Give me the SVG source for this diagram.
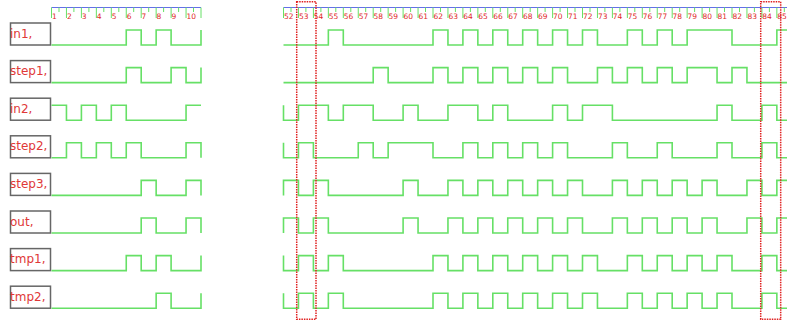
<svg xmlns="http://www.w3.org/2000/svg" width="787" height="322" viewBox="0 0 787 322">
<style>
.bg{fill:#ffffff}
.wave{fill:none;stroke:#66e066;stroke-width:1.6;stroke-linejoin:miter}
.tick{fill:none;stroke:#66e066;stroke-width:1}
.axis{fill:none;stroke:#6270e8;stroke-width:1.2}
.num{font-family:"DejaVu Sans",Verdana,sans-serif;font-size:7.5px;fill:#e02828}
.lbl{font-family:"DejaVu Sans",Verdana,sans-serif;font-size:12px;fill:#e03838}
.box{fill:none;stroke:#666666;stroke-width:1.5}
.mark{fill:none;stroke:#e02020;stroke-width:1.5;stroke-dasharray:1.5 1}
</style>
<rect class="bg" x="0" y="0" width="787" height="322"/>
<g id="ruler">
<path class="axis" d="M51.5,7.5 H201 M283.5,7.5 H787"/>
<path class="tick" d="M51.5,7.5V18M66.45,7.5V18M81.4,7.5V18M96.35,7.5V18M111.3,7.5V18M126.25,7.5V18M141.2,7.5V18M156.15,7.5V18M171.1,7.5V18M186.05,7.5V18M201,7.5V18
M59,7.5V12M73.9,7.5V12M88.9,7.5V12M103.8,7.5V12M118.8,7.5V12M133.7,7.5V12M148.7,7.5V12M163.6,7.5V12M178.6,7.5V12M193.5,7.5V12
M283.5,7.5V18M298.45,7.5V18M313.4,7.5V18M328.35,7.5V18M343.3,7.5V18M358.25,7.5V18M373.2,7.5V18M388.15,7.5V18M403.1,7.5V18M418.05,7.5V18M433,7.5V18M447.95,7.5V18M462.9,7.5V18M477.85,7.5V18M492.8,7.5V18M507.75,7.5V18M522.7,7.5V18M537.65,7.5V18M552.6,7.5V18M567.55,7.5V18M582.5,7.5V18M597.45,7.5V18M612.4,7.5V18M627.35,7.5V18M642.3,7.5V18M657.25,7.5V18M672.2,7.5V18M687.15,7.5V18M702.1,7.5V18M717.05,7.5V18M732,7.5V18M746.95,7.5V18M761.9,7.5V18M776.85,7.5V18
M291,7.5V12M305.9,7.5V12M320.9,7.5V12M335.8,7.5V12M350.8,7.5V12M365.7,7.5V12M380.7,7.5V12M395.6,7.5V12M410.6,7.5V12M425.5,7.5V12M440.5,7.5V12M455.4,7.5V12M470.4,7.5V12M485.3,7.5V12M500.3,7.5V12M515.2,7.5V12M530.2,7.5V12M545.1,7.5V12M560.1,7.5V12M575,7.5V12M590,7.5V12M604.9,7.5V12M619.9,7.5V12M634.8,7.5V12M649.8,7.5V12M664.7,7.5V12M679.7,7.5V12M694.6,7.5V12M709.6,7.5V12M724.5,7.5V12M739.5,7.5V12M754.4,7.5V12M769.4,7.5V12M784.3,7.5V12"/>
<g class="num">
<text x="51.9" y="18.5">1</text><text x="66.9" y="18.5">2</text><text x="81.8" y="18.5">3</text><text x="96.8" y="18.5">4</text><text x="111.7" y="18.5">5</text><text x="126.7" y="18.5">6</text><text x="141.6" y="18.5">7</text><text x="156.6" y="18.5">8</text><text x="171.5" y="18.5">9</text><text x="186.5" y="18.5">10</text>
<text x="283.9" y="18.5">52</text><text x="298.9" y="18.5">53</text><text x="313.8" y="18.5">54</text><text x="328.8" y="18.5">55</text><text x="343.7" y="18.5">56</text><text x="358.7" y="18.5">57</text><text x="373.6" y="18.5">58</text><text x="388.6" y="18.5">59</text><text x="403.5" y="18.5">60</text><text x="418.5" y="18.5">61</text><text x="433.4" y="18.5">62</text><text x="448.4" y="18.5">63</text><text x="463.3" y="18.5">64</text><text x="478.3" y="18.5">65</text><text x="493.2" y="18.5">66</text><text x="508.2" y="18.5">67</text><text x="523.1" y="18.5">68</text><text x="538.1" y="18.5">69</text><text x="553" y="18.5">70</text><text x="568" y="18.5">71</text><text x="582.9" y="18.5">72</text><text x="597.9" y="18.5">73</text><text x="612.8" y="18.5">74</text><text x="627.8" y="18.5">75</text><text x="642.7" y="18.5">76</text><text x="657.7" y="18.5">77</text><text x="672.6" y="18.5">78</text><text x="687.6" y="18.5">79</text><text x="702.5" y="18.5">80</text><text x="717.5" y="18.5">81</text><text x="732.4" y="18.5">82</text><text x="747.4" y="18.5">83</text><text x="762.3" y="18.5">84</text><text x="777.3" y="18.5">85</text>
</g>
</g>
<g id="row-in1" transform="translate(0,30)">
<rect class="box" x="10.5" y="-7" width="40" height="22"/>
<text class="lbl" x="10" y="7.6">in1,</text>
<path class="wave" d="M51.5,15 H126.25 V0 H141.2 V15 H156.15 V0 H171.1 V15 H201 V0"/>
<path class="wave" d="M283.5,15 H328.35 V0 H343.3 V15 H433 V0 H447.95 V15 H462.9 V0 H477.85 V15 H492.8 V0 H507.75 V15 H522.7 V0 H537.65 V15 H552.6 V0 H567.55 V15 H582.5 V0 H597.45 V15 H627.35 V0 H642.3 V15 H657.25 V0 H672.2 V15 H687.15 V0 H732 V15 H776.85 V0 H787"/>
</g>
<g id="row-step1" transform="translate(0,67.6)">
<rect class="box" x="10.5" y="-7" width="40" height="22"/>
<text class="lbl" x="10" y="7.6">step1,</text>
<path class="wave" d="M51.5,15 H126.25 V0 H141.2 V15 H171.1 V0 H186.05 V15 H201 V0"/>
<path class="wave" d="M283.5,15 H373.2 V0 H388.15 V15 H433 V0 H447.95 V15 H462.9 V0 H477.85 V15 H492.8 V0 H507.75 V15 H522.7 V0 H537.65 V15 H552.6 V0 H567.55 V15 H597.45 V0 H612.4 V15 H627.35 V0 H642.3 V15 H657.25 V0 H672.2 V15 H687.15 V0 H717.05 V15 H732 V0 H746.95 V15 H787"/>
</g>
<g id="row-in2" transform="translate(0,105.2)">
<rect class="box" x="10.5" y="-7" width="40" height="22"/>
<text class="lbl" x="10" y="7.6">in2,</text>
<path class="wave" d="M51.5,0 H66.45 V15 H81.4 V0 H96.35 V15 H111.3 V0 H126.25 V15 H186.05 V0 H201"/>
<path class="wave" d="M283.5,0 V15 H298.45 V0 H328.35 V15 H343.3 V0 H373.2 V15 H403.1 V0 H418.05 V15 H447.95 V0 H477.85 V15 H492.8 V0 H507.75 V15 H552.6 V0 H567.55 V15 H582.5 V0 H612.4 V15 H717.05 V0 H732 V15 H761.9 V0 H776.85 V15 H787"/>
</g>
<g id="row-step2" transform="translate(0,142.8)">
<rect class="box" x="10.5" y="-7" width="40" height="22"/>
<text class="lbl" x="10" y="7.6">step2,</text>
<path class="wave" d="M51.5,15 H66.45 V0 H81.4 V15 H96.35 V0 H111.3 V15 H126.25 V0 H141.2 V15 H186.05 V0 H201 V15"/>
<path class="wave" d="M283.5,0 V15 H298.45 V0 H313.4 V15 H358.25 V0 H373.2 V15 H388.15 V0 H433 V15 H462.9 V0 H477.85 V15 H492.8 V0 H507.75 V15 H522.7 V0 H537.65 V15 H552.6 V0 H567.55 V15 H612.4 V0 H627.35 V15 H657.25 V0 H672.2 V15 H717.05 V0 H732 V15 H761.9 V0 H776.85 V15 H787"/>
</g>
<g id="row-step3" transform="translate(0,180.4)">
<rect class="box" x="10.5" y="-7" width="40" height="22"/>
<text class="lbl" x="10" y="7.6">step3,</text>
<path class="wave" d="M51.5,15 H141.2 V0 H156.15 V15 H186.05 V0 H201 V15"/>
<path class="wave" d="M283.5,15 V0 H298.45 V15 H313.4 V0 H328.35 V15 H403.1 V0 H418.05 V15 H447.95 V0 H462.9 V15 H477.85 V0 H492.8 V15 H507.75 V0 H522.7 V15 H537.65 V0 H552.6 V15 H567.55 V0 H582.5 V15 H612.4 V0 H627.35 V15 H642.3 V0 H657.25 V15 H672.2 V0 H687.15 V15 H702.1 V0 H717.05 V15 H746.95 V0 H761.9 V15 H776.85 V0 H787"/>
</g>
<g id="row-out" transform="translate(0,218)">
<rect class="box" x="10.5" y="-7" width="40" height="22"/>
<text class="lbl" x="10" y="7.6">out,</text>
<path class="wave" d="M51.5,15 H141.2 V0 H156.15 V15 H186.05 V0 H201 V15"/>
<path class="wave" d="M283.5,15 V0 H298.45 V15 H313.4 V0 H328.35 V15 H403.1 V0 H418.05 V15 H447.95 V0 H462.9 V15 H477.85 V0 H492.8 V15 H507.75 V0 H522.7 V15 H537.65 V0 H552.6 V15 H567.55 V0 H582.5 V15 H612.4 V0 H627.35 V15 H642.3 V0 H657.25 V15 H672.2 V0 H687.15 V15 H702.1 V0 H717.05 V15 H746.95 V0 H761.9 V15 H776.85 V0 H787"/>
</g>
<g id="row-tmp1" transform="translate(0,255.6)">
<rect class="box" x="10.5" y="-7" width="40" height="22"/>
<text class="lbl" x="10" y="7.6">tmp1,</text>
<path class="wave" d="M51.5,15 H126.25 V0 H141.2 V15 H156.15 V0 H171.1 V15 H201 V0"/>
<path class="wave" d="M283.5,0 V15 H298.45 V0 H313.4 V15 H328.35 V0 H343.3 V15 H433 V0 H447.95 V15 H462.9 V0 H477.85 V15 H492.8 V0 H507.75 V15 H522.7 V0 H537.65 V15 H552.6 V0 H567.55 V15 H582.5 V0 H597.45 V15 H627.35 V0 H642.3 V15 H657.25 V0 H672.2 V15 H687.15 V0 H702.1 V15 H717.05 V0 H732 V15 H761.9 V0 H776.85 V15 H787"/>
</g>
<g id="row-tmp2" transform="translate(0,293.2)">
<rect class="box" x="10.5" y="-7" width="40" height="22"/>
<text class="lbl" x="10" y="7.6">tmp2,</text>
<path class="wave" d="M51.5,15 H156.15 V0 H171.1 V15 H201 V0"/>
<path class="wave" d="M283.5,0 V15 H298.45 V0 H313.4 V15 H328.35 V0 H343.3 V15 H433 V0 H447.95 V15 H462.9 V0 H477.85 V15 H492.8 V0 H507.75 V15 H522.7 V0 H537.65 V15 H552.6 V0 H567.55 V15 H582.5 V0 H597.45 V15 H627.35 V0 H642.3 V15 H657.25 V0 H672.2 V15 H687.15 V0 H702.1 V15 H717.05 V0 H732 V15 H761.9 V0 H776.85 V15 H787"/>
</g>
<g id="markers">
<rect class="mark" x="296.7" y="1.7" width="19.3" height="317.6"/>
<rect class="mark" x="760.7" y="1.7" width="20" height="317.6"/>
</g>
</svg>
